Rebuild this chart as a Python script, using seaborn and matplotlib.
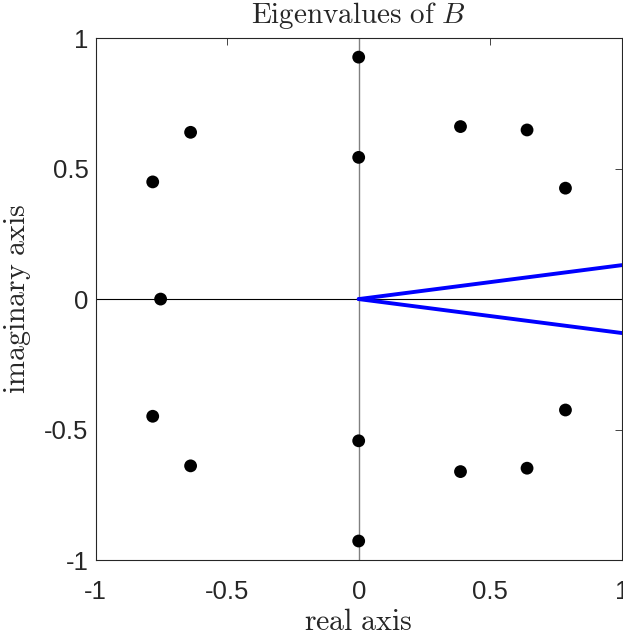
import numpy as np
import pandas as pd
import matplotlib
matplotlib.use('Agg')
import matplotlib.pyplot as plt
import seaborn as sns

# eigenvalues (conjugate pairs)
re_vals = [0.0, 0.0, -0.639, -0.783, -0.753, 0.387, 0.640, 0.786,
           0.0, 0.0, -0.639, -0.783, 0.387, 0.640, 0.786]
im_vals = [0.927, 0.543, 0.639, 0.449, 0.0, 0.661, 0.648, 0.425,
           -0.927, -0.543, -0.639, -0.449, -0.661, -0.648, -0.425]

# sector lines from the origin
ray_x = [0.0, 1.0]
ray_up = [0.0, 0.13]
ray_down = [0.0, -0.13]

ticks = [-1, -0.5, 0, 0.5, 1]
tick_labels = ['-1', '-0.5', '0', '0.5', '1']

sns.set_style('white')
plt.rcParams.update({
    'font.family': ['Liberation Sans', 'DejaVu Sans'],
    'mathtext.fontset': 'cm',
    'xtick.direction': 'in',
    'ytick.direction': 'in',
    'xtick.top': True,
    'ytick.right': True,
    'xtick.major.size': 5,
    'ytick.major.size': 5,
    'xtick.major.width': 0.6,
    'ytick.major.width': 0.6,
    'xtick.labelsize': 18.5,
    'ytick.labelsize': 18.5,
})

df = pd.DataFrame({'re': re_vals, 'im': im_vals})

fig = plt.figure(figsize=(6.23, 6.35), dpi=100)
ax = fig.add_axes([0.1535, 0.118, 0.8445, 0.822])

ax.axvline(0, color='#808080', linewidth=1.0, zorder=1)
ax.axhline(0, color='black', linewidth=0.8, zorder=1)

sns.lineplot(x=ray_x, y=ray_up, color='blue', linewidth=2.8, sort=False, ax=ax, zorder=2)
sns.lineplot(x=ray_x, y=ray_down, color='blue', linewidth=2.8, sort=False, ax=ax, zorder=2)

sns.scatterplot(data=df, x='re', y='im', color='black', s=85, edgecolor='none', ax=ax, zorder=3)

ax.set_xlim(-1, 1)
ax.set_ylim(-1, 1)
ax.set_xticks(ticks)
ax.set_xticklabels(tick_labels)
ax.set_yticks(ticks)
ax.set_yticklabels(tick_labels)
ax.tick_params(axis='x', pad=14, colors='#262626')
ax.tick_params(axis='y', pad=5, colors='#262626')

for s in ax.spines.values():
    s.set_linewidth(0.8)
    s.set_color('#262626')
    s.set_visible(True)

ax.set_xlabel(r'$\mathrm{real\ axis}$', fontsize=21.5, labelpad=3)
ax.set_ylabel(r'$\mathrm{imaginary\ axis}$', fontsize=21.5, labelpad=8)
ax.set_title(r'$\mathrm{Eigenvalues\ of\ }B$', fontsize=21, pad=11)

fig.savefig('out.png', dpi=100)
